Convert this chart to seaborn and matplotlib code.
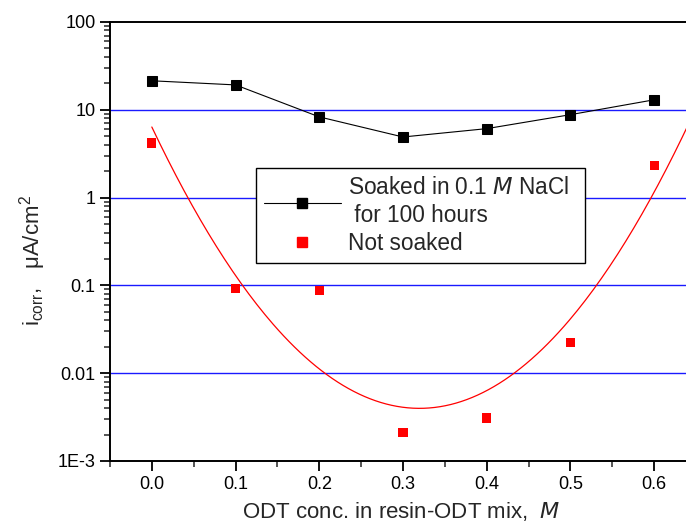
import numpy as np
import pandas as pd
import matplotlib
matplotlib.use('Agg')
import matplotlib.pyplot as plt
import seaborn as sns
from matplotlib.ticker import MultipleLocator, LogLocator, NullFormatter, FormatStrFormatter
from matplotlib.lines import Line2D

# data
odt_conc = [0.0, 0.1, 0.2, 0.3, 0.4, 0.5, 0.6]
soaked = [21.4, 19.2, 8.3, 4.9, 6.1, 8.8, 13.0]
not_soaked = [4.2, 0.092, 0.088, 0.0021, 0.0031, 0.0225, 2.31]
y_ticks = [1e-3, 0.01, 0.1, 1, 10, 100]
y_labels = ['1E-3', '0.01', '0.1', '1', '10', '100']

sns.set_style('ticks')
plt.rcParams['font.family'] = ['Liberation Sans', 'DejaVu Sans']
plt.rcParams['mathtext.default'] = 'regular'

df = pd.DataFrame({'x': odt_conc, 'soaked': soaked, 'not_soaked': not_soaked})

# quadratic fit of log10(i_corr) for the unsoaked samples
coef = np.polyfit(df['x'], np.log10(df['not_soaked']), 2)
xfit = np.linspace(0.0, 0.64, 200)
fit = pd.DataFrame({'x': xfit, 'y': 10 ** np.polyval(coef, xfit)})

fig = plt.figure(figsize=(6.86, 5.26), dpi=100)
ax = fig.add_axes([0.1603, 0.1236, 0.8397, 0.8346])

for v in [0.01, 0.1, 1, 10]:
    ax.axhline(v, color='#1a1aff', lw=1.0, zorder=0)

sns.lineplot(data=fit, x='x', y='y', ax=ax, color='red', lw=0.9, zorder=2)
sns.lineplot(data=df, x='x', y='soaked', ax=ax, color='black', lw=0.8,
             marker='s', markersize=6.5, markeredgecolor='black', zorder=3)
sns.scatterplot(data=df, x='x', y='not_soaked', ax=ax, color='red', marker='s',
                s=45, edgecolor='none', zorder=3)

ax.set_yscale('log')
ax.set_ylim(1e-3, 100)
ax.set_xlim(-0.05, 0.638)
ax.set_yticks(y_ticks)
ax.set_yticklabels(y_labels)
ax.yaxis.set_minor_locator(LogLocator(base=10, subs=np.arange(2, 10)))
ax.yaxis.set_minor_formatter(NullFormatter())
ax.xaxis.set_major_locator(MultipleLocator(0.1))
ax.xaxis.set_minor_locator(MultipleLocator(0.05))
ax.xaxis.set_major_formatter(FormatStrFormatter('%.1f'))

ax.tick_params(which='major', direction='out', length=7, width=1.3, labelsize=13, colors='black')
ax.tick_params(which='minor', direction='out', length=4, width=1.1)
for s in ['left', 'bottom', 'top']:
    ax.spines[s].set_linewidth(1.4)
    ax.spines[s].set_color('black')
ax.spines['right'].set_visible(False)

ax.set_xlabel('ODT conc. in resin-ODT mix,  $\\mathit{M}$', fontsize=16)
ax.xaxis.set_label_coords(0.505, -0.09)
ax.set_ylabel('i$_{corr}$,   μA/cm$^{2}$', fontsize=16)
ax.yaxis.set_label_coords(-0.108, 0.456)

handles = [
    Line2D([], [], color='black', lw=0.8, marker='s', markersize=6.5),
    Line2D([], [], color='red', lw=0, marker='s', markersize=7),
]
labels = ['Soaked in 0.1 $\\mathit{M}$ NaCl  \n for 100 hours', 'Not soaked']
leg = ax.legend(handles, labels, loc='upper left', bbox_to_anchor=(0.2535, 0.667),
                fontsize=16.3, frameon=True, fancybox=False, edgecolor='black',
                framealpha=1, handlelength=3.4, handletextpad=0.3,
                borderpad=0.35, labelspacing=0.2, borderaxespad=0)
leg.get_frame().set_linewidth(1.0)
for t in leg.get_texts():
    t.set_linespacing(1.3)

fig.savefig('out.png', dpi=100)
